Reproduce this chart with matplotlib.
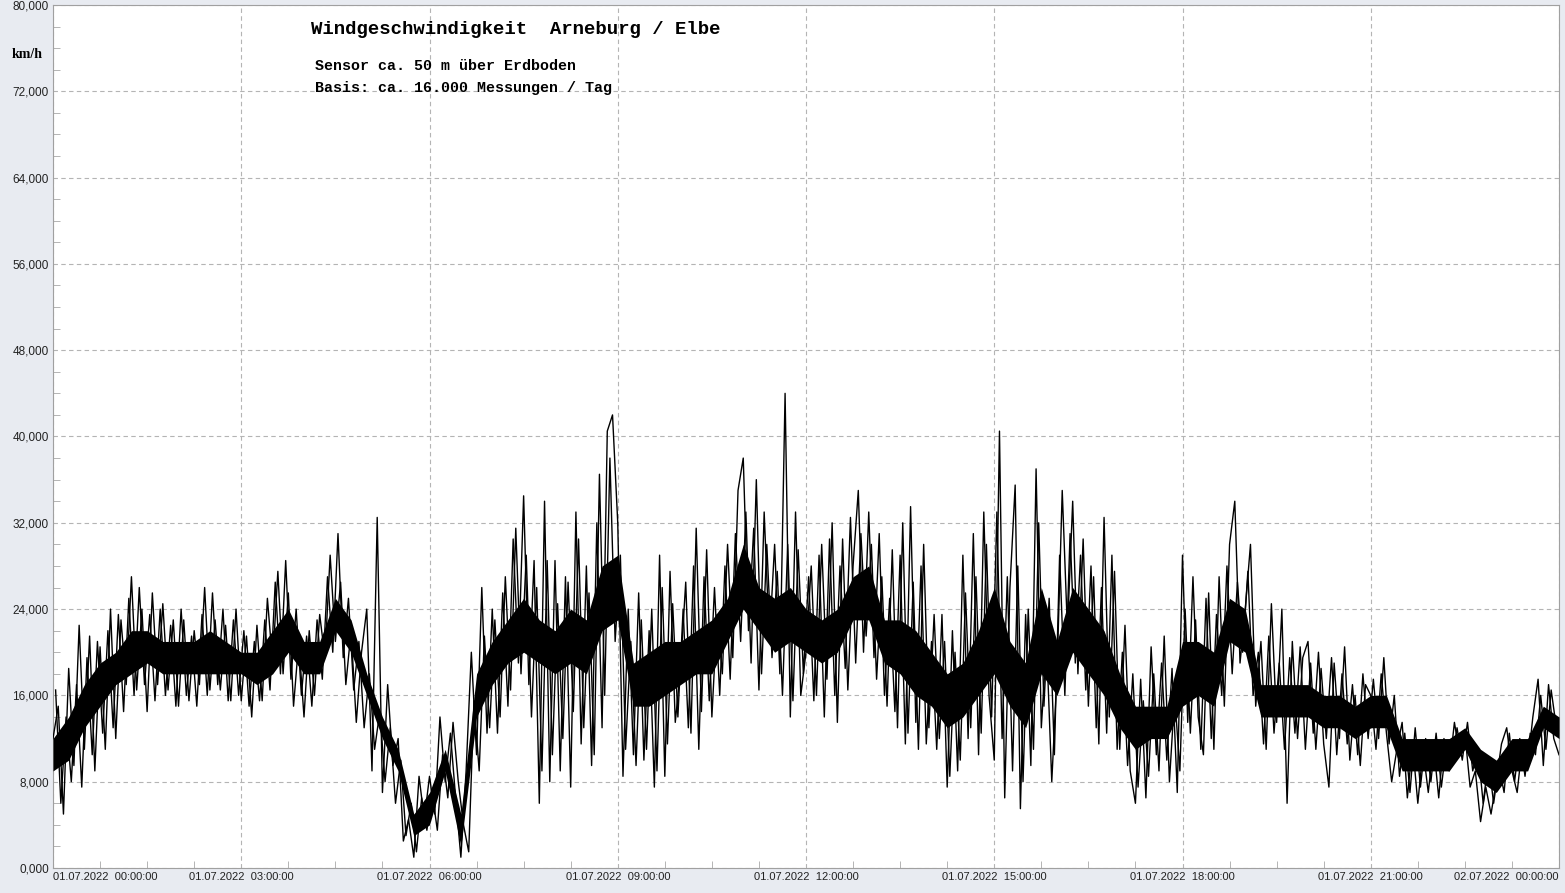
import numpy as np
import matplotlib.pyplot as plt
from matplotlib.ticker import MultipleLocator, FuncFormatter
from matplotlib.patches import Rectangle

# Windgeschwindigkeit km/h, alle 5 Minuten ab 00:00
h00 = [12.0, 15.0, 5.0, 18.5, 9.5, 22.5, 11.0, 21.5, 9.0, 20.5, 11.0, 24.0]
h01 = [12.0, 23.0, 17.0, 27.0, 16.5, 24.0, 14.5, 25.5, 17.0, 24.5, 16.5, 23.0]
h02 = [15.0, 23.0, 15.5, 22.0, 17.0, 26.0, 16.5, 23.0, 16.5, 22.5, 15.5, 24.0]
h03 = [15.5, 21.5, 14.0, 22.5, 15.5, 25.0, 19.0, 27.5, 18.0, 25.5, 15.0, 21.0]
h04 = [14.0, 22.0, 16.0, 23.5, 19.5, 29.0, 21.0, 26.5, 17.0, 22.0, 13.5, 20.0]
h05 = [24.0, 9.0, 32.5, 7.0, 17.0, 9.5, 12.0, 2.5, 4.5, 1.0, 8.5, 4.5]
h06 = [8.5, 5.0, 14.0, 8.0, 12.5, 6.5, 1.0, 9.0, 20.0, 10.5, 26.0, 12.5]
h07 = [24.0, 12.5, 25.5, 15.0, 30.5, 19.0, 34.5, 17.0, 28.5, 6.0, 34.0, 8.0]
h08 = [28.5, 9.0, 27.0, 7.5, 33.0, 11.5, 28.0, 9.5, 32.0, 13.0, 40.5, 42.0]
h09 = [32.0, 8.5, 24.0, 10.5, 25.5, 10.0, 22.0, 7.5, 29.0, 8.5, 27.5, 13.5]
h10 = [18.5, 26.5, 12.5, 31.5, 14.5, 29.5, 14.0, 23.5, 18.0, 30.0, 19.5, 35.0]
h11 = [38.0, 22.0, 31.5, 16.5, 33.0, 21.0, 30.0, 18.0, 44.0, 14.0, 33.0, 16.0]
h12 = [20.0, 28.0, 16.0, 30.0, 17.5, 32.0, 13.5, 30.5, 16.5, 28.0, 35.0, 20.0]
h13 = [33.0, 19.5, 31.0, 16.0, 25.0, 14.5, 29.0, 11.5, 33.5, 13.5, 28.0, 11.5]
h14 = [21.0, 11.0, 23.5, 7.5, 22.0, 9.0, 29.0, 12.0, 31.0, 10.5, 33.0, 16.0]
h15 = [10.0, 40.5, 6.5, 26.0, 35.5, 5.5, 23.5, 9.5, 37.0, 13.0, 21.0, 8.0]
h16 = [18.0, 35.0, 22.0, 34.0, 18.0, 30.5, 15.0, 27.0, 11.5, 32.5, 14.0, 27.5]
h17 = [11.0, 22.5, 9.0, 6.0, 17.5, 6.5, 20.5, 10.5, 19.0, 10.0, 18.5, 7.0]
h18 = [29.0, 13.5, 27.0, 14.0, 10.5, 25.5, 11.0, 27.0, 15.0, 30.0, 34.0, 19.0]
h19 = [24.0, 30.0, 15.0, 21.0, 11.0, 24.5, 13.5, 24.0, 6.0, 21.0, 12.0, 19.5]
h20 = [21.0, 12.5, 20.0, 11.5, 7.5, 19.0, 12.0, 20.5, 10.0, 16.0, 9.5, 17.0]
h21 = [16.0, 11.0, 18.0, 12.5, 8.0, 11.0, 13.5, 6.5, 11.5, 6.0, 11.0, 7.0]
h22 = [11.5, 6.5, 12.0, 9.0, 13.5, 10.5, 12.5, 7.5, 9.0, 4.3, 7.5, 5.0]
h23 = [8.0, 11.5, 13.0, 9.0, 7.0, 11.5, 9.5, 14.0, 17.5, 9.5, 17.0, 12.0]
last = [10.5]

# Zwischenwerte, alle 5 Minuten ab 00:02:30
b00 = [16.5, 6.0, 14.0, 8.0, 17.0, 7.5, 19.5, 10.5, 21.0, 12.5, 22.0, 13.0]
b01 = [23.5, 14.5, 25.0, 16.0, 26.0, 17.0, 23.5, 15.5, 24.0, 16.0, 22.5, 15.0]
b02 = [24.0, 16.0, 21.5, 15.0, 23.5, 16.0, 25.5, 17.0, 24.0, 15.5, 23.0, 16.0]
b03 = [22.0, 15.0, 21.0, 15.5, 23.0, 16.5, 26.5, 18.0, 28.5, 17.5, 24.0, 16.0]
b04 = [21.5, 15.0, 23.0, 17.5, 27.0, 20.0, 31.0, 19.5, 25.0, 16.5, 21.0, 13.0]
b05 = [18.0, 11.0, 14.5, 8.0, 13.0, 6.0, 10.0, 3.0, 6.0, 1.5, 6.5, 3.5]
b06 = [7.0, 3.5, 10.5, 6.5, 13.5, 8.0, 4.0, 1.5, 15.5, 9.0, 21.5, 13.0]
b07 = [23.0, 14.0, 27.0, 16.5, 31.5, 18.0, 29.0, 14.0, 26.0, 9.0, 28.5, 10.5]
b08 = [24.5, 12.0, 26.5, 14.5, 30.5, 13.0, 25.5, 10.5, 36.5, 16.0, 38.0, 21.0]
b09 = [29.0, 11.0, 21.0, 9.5, 23.0, 11.0, 24.0, 9.0, 26.0, 11.5, 24.5, 14.0]
b10 = [24.0, 13.0, 28.0, 11.0, 27.0, 15.5, 26.0, 16.0, 28.0, 17.5, 31.0, 21.0]
b11 = [33.0, 19.0, 36.0, 18.0, 30.0, 19.5, 27.5, 16.0, 30.0, 15.5, 29.5, 18.0]
b12 = [27.0, 15.5, 29.0, 14.0, 30.5, 16.0, 28.0, 18.5, 32.5, 19.0, 31.0, 21.5]
b13 = [30.0, 17.5, 27.0, 15.0, 29.5, 13.0, 32.0, 12.5, 26.5, 11.0, 30.0, 13.0]
b14 = [23.5, 12.0, 21.0, 8.5, 20.0, 10.0, 25.5, 13.0, 27.0, 12.5, 30.0, 14.0]
b15 = [33.0, 12.0, 27.0, 9.0, 28.0, 8.0, 24.0, 11.0, 32.0, 15.0, 25.0, 10.5]
b16 = [29.0, 16.0, 31.0, 19.0, 29.0, 16.5, 28.0, 13.0, 26.0, 12.5, 29.0, 11.0]
b17 = [20.0, 9.5, 18.0, 7.5, 15.5, 8.5, 18.0, 9.0, 21.5, 8.0, 16.0, 9.0]
b18 = [24.0, 12.5, 23.0, 11.0, 25.0, 12.0, 23.5, 16.0, 28.0, 18.0, 26.5, 20.0]
b19 = [27.5, 16.0, 20.0, 11.5, 21.5, 12.5, 19.0, 11.0, 19.5, 12.5, 20.5, 11.0]
b20 = [19.0, 11.0, 18.5, 12.0, 19.5, 10.5, 18.0, 11.5, 17.0, 10.5, 18.0, 12.0]
b21 = [17.5, 12.0, 19.5, 11.5, 16.0, 8.5, 12.5, 7.0, 13.0, 7.5, 12.0, 8.0]
b22 = [12.5, 7.5, 11.5, 9.5, 13.0, 10.0, 13.5, 9.0, 11.0, 6.0, 10.0, 6.0]
b23 = [9.5, 7.0, 12.5, 8.0, 12.0, 8.5, 12.5, 10.5, 16.0, 11.0, 16.5, 13.0]

speed = (h00 + h01 + h02 + h03 + h04 + h05 + h06 + h07 + h08 + h09 + h10 + h11
         + h12 + h13 + h14 + h15 + h16 + h17 + h18 + h19 + h20 + h21 + h22 + h23 + last)
speed_b = (b00 + b01 + b02 + b03 + b04 + b05 + b06 + b07 + b08 + b09 + b10 + b11
           + b12 + b13 + b14 + b15 + b16 + b17 + b18 + b19 + b20 + b21 + b22 + b23)
hours = np.arange(len(speed)) * 5 / 60.0
hours_b = (np.arange(len(speed_b)) * 5 + 2.5) / 60.0

# dichter Kern der Messwerte, alle 15 Minuten (untere / obere Kante)
band_lo = [9, 10, 13, 15,  17, 18, 19, 18,  18, 18, 18, 18,  18, 17, 18, 20,
           18, 18, 22, 20,  16, 12, 9, 3,  4, 9, 2, 14,  17, 19, 20, 19,
           18, 19, 18, 22,  23, 15, 15, 16,  17, 18, 18, 21,  24, 22, 20, 21,
           20, 19, 20, 23,  23, 19, 18, 16,  15, 13, 14, 16,  18, 15, 13, 18,
           16, 20, 18, 16,  13, 11, 12, 12,  15, 16, 15, 21,  20, 14, 14, 14,
           14, 13, 13, 12,  13, 13, 9, 9,  9, 9, 11, 8,  7, 9, 9, 13,  12]
band_hi = [12, 14, 17, 19,  20, 22, 22, 21,  21, 21, 22, 21,  20, 20, 22, 24,
           21, 21, 25, 23,  18, 14, 11, 5,  7, 11, 5, 18,  21, 23, 25, 23,
           22, 24, 23, 28,  29, 19, 20, 21,  21, 22, 23, 25,  30, 26, 25, 26,
           24, 23, 24, 27,  28, 23, 23, 22,  20, 18, 19, 22,  26, 21, 19, 26,
           21, 26, 24, 22,  18, 15, 15, 15,  21, 21, 20, 25,  24, 17, 17, 17,
           17, 16, 16, 15,  16, 16, 12, 12,  12, 12, 13, 11,  10, 12, 12, 15,  14]
band_hours = np.arange(len(band_lo)) * 0.25

tick_hours = [0, 3, 6, 9, 12, 15, 18, 21, 24]
tick_labels = ["01.07.2022  00:00:00", "01.07.2022  03:00:00", "01.07.2022  06:00:00",
               "01.07.2022  09:00:00", "01.07.2022  12:00:00", "01.07.2022  15:00:00",
               "01.07.2022  18:00:00", "01.07.2022  21:00:00", "02.07.2022  00:00:00"]

W, H = 1565, 893
fig = plt.figure(figsize=(W / 100, H / 100), dpi=100, facecolor="#e8ebf1")
ax = fig.add_axes([53 / W, 25 / H, 1506 / W, 863 / H])
ax.set_facecolor("white")

ax.fill_between(band_hours, band_lo, band_hi, color="black", lw=0, zorder=3)
ax.plot(hours, speed, color="black", lw=1.0, zorder=3)
ax.plot(hours_b, speed_b, color="black", lw=1.0, zorder=3)

ax.set_xlim(0, 24)
ax.set_ylim(0, 80)
ax.yaxis.set_major_locator(MultipleLocator(8))
ax.yaxis.set_minor_locator(MultipleLocator(2))
ax.yaxis.set_major_formatter(FuncFormatter(lambda v, p: f"{v:.3f}".replace(".", ",")))
ax.set_xticks(tick_hours)
ax.set_xticklabels(tick_labels)
ax.xaxis.set_minor_locator(MultipleLocator(0.75))

lbls = ax.get_xticklabels()
lbls[0].set_ha("left")
lbls[-1].set_ha("right")

ax.grid(which="major", ls=(0, (4, 3)), color="#b4b4b4", lw=0.8)
ax.tick_params(which="both", direction="in", color="#a8a8a8", labelcolor="#222222", pad=3)
ax.tick_params(axis="x", labelsize=8)
ax.tick_params(axis="y", labelsize=8.5)
ax.tick_params(which="major", length=0)
ax.tick_params(which="minor", length=5)
for lab in ax.get_xticklabels() + ax.get_yticklabels():
    lab.set_family("Liberation Sans")
ylbls = ax.get_yticklabels()
ylbls[0].set_va("bottom")
ylbls[-1].set_va("top")
for s in ax.spines.values():
    s.set_color("#a0a0a0")

# weisser Kasten hinter dem Titelblock
ax.add_patch(Rectangle((303 / W, 1 - 97 / H), 433 / W, 89 / H, transform=fig.transFigure,
                       facecolor="white", edgecolor="none", zorder=1.5))

fig.text(311 / W, 1 - 29 / H, "Windgeschwindigkeit  Arneburg / Elbe", family="Liberation Mono",
         weight="bold", size=13.7, va="center", ha="left")
fig.text(315 / W, 1 - 66 / H, "Sensor ca. 50 m über Erdboden", family="Liberation Mono",
         weight="bold", size=10.8, va="center", ha="left")
fig.text(315 / W, 1 - 88 / H, "Basis: ca. 16.000 Messungen / Tag", family="Liberation Mono",
         weight="bold", size=10.8, va="center", ha="left")
fig.text(12 / W, 1 - 55 / H, "km/h", family="Liberation Serif", weight="bold", size=10,
         va="center", ha="left")

fig.savefig("out.png", dpi=100, facecolor=fig.get_facecolor())
